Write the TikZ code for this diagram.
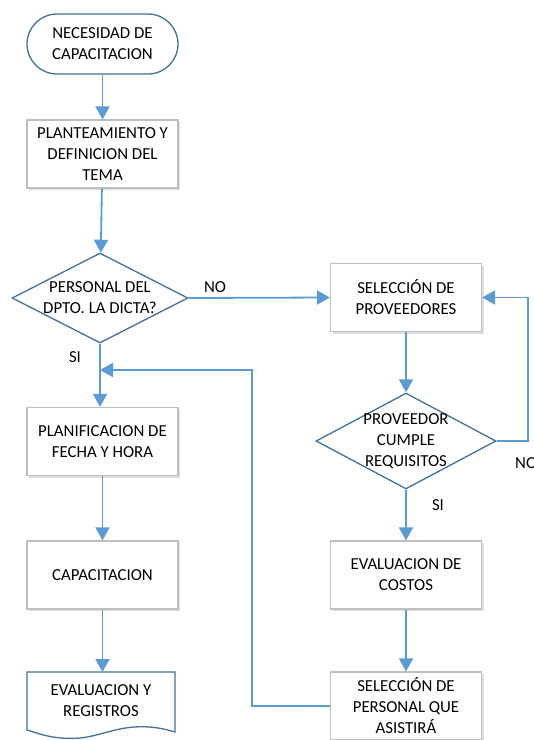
\documentclass[tikz,border=0pt]{standalone}
\usepackage{fontspec}
\setmainfont{Carlito}
\usetikzlibrary{arrows.meta,shapes.geometric,shadows}
\definecolor{flow}{HTML}{5B9BD5}
\definecolor{edge}{HTML}{41719C}
\definecolor{boxline}{HTML}{BFBFBF}
\begin{document}
\begin{tikzpicture}[x=1pt,y=-1pt,
  every node/.style={font=\fontsize{16.8}{21}\selectfont, align=center, inner sep=0pt},
  procbox/.style={draw=boxline, line width=1.2pt, fill=white, minimum width=151pt, minimum height=68pt,
    drop shadow={shadow xshift=2pt, shadow yshift=-2pt, fill=black!25, opacity=0.5}},
  termbox/.style={draw=edge, line width=1.3pt, fill=white, rounded corners=30pt, minimum width=151pt, minimum height=60pt},
  decide/.style={draw=edge, line width=1.3pt, fill=white, diamond, aspect=2, inner sep=-20pt, minimum width=176pt, minimum height=90pt},
  flowline/.style={draw=flow, line width=1.8pt, -{Triangle[length=13pt,width=14pt]}},
  lbl/.style={font=\fontsize{16.8}{19}\selectfont}
]
\useasboundingbox (0,0) rectangle (534,740);
\clip (0,0) rectangle (534,740);

% left column
\node[termbox] (start) at (102.5,44) {NECESIDAD DE\\CAPACITACION};
\node[procbox] (tema) at (102.5,154) {PLANTEAMIENTO Y\\DEFINICION DEL\\TEMA};
\node[decide] (dicta) at (100,298) {PERSONAL DEL\\DPTO. LA DICTA?};
\node[procbox] (plan) at (102.5,441.5) {PLANIFICACION DE\\FECHA Y HORA};
\node[procbox] (capac) at (102.5,575) {CAPACITACION};

% document shape with wavy bottom edge
\draw[draw=edge, line width=1.3pt, fill=white]
  (27,672) -- (175,672) -- (175,732)
  .. controls (130,718) and (105,736) .. (80,738)
  .. controls (55,740) and (40,734) .. (27,730) -- cycle;
\node (doc) at (101,701) {EVALUACION Y\\REGISTROS};
\coordinate (docin) at (102.5,672);

% right column
\node[procbox] (prov) at (406,297.5) {SELECCIÓN DE\\PROVEEDORES};
\node[decide, minimum width=180pt, minimum height=96pt] (cumple) at (406,441) {PROVEEDOR\\CUMPLE\\REQUISITOS};
\node[procbox] (costos) at (406,575) {EVALUACION DE\\COSTOS};
\node[procbox] (pers) at (406,706) {SELECCIÓN DE\\PERSONAL QUE\\ASISTIRÁ};

% connectors
\draw[flowline] (start) -- (tema);
\draw[flowline] (tema) -- (dicta);
\draw[flowline] (dicta.east) -- (prov.west);
\draw[flowline] (dicta.south) -- (plan.north -| dicta.south);
\draw[flowline] (plan) -- (capac);
\draw[flowline] (capac.south) -- (docin);
\draw[flowline] (prov) -- (cumple);
\draw[flowline] (cumple.east) -- (528,441) -- (528,297.5) -- (prov.east);
\draw[flowline] (cumple) -- (costos);
\draw[flowline] (costos) -- (pers);
\coordinate (back) at (100,370);
\draw[flowline] (pers.west) -- (252,706) -- (252,370) -- (back);

% branch labels
\node[lbl] (no1) at (215,287) {NO};
\node[lbl] (si1) at (75,357) {SI};
\node[lbl, anchor=west] (no2) at (515,463) {NO};
\node[lbl] (si2) at (438,505) {SI};
\end{tikzpicture}
\end{document}
